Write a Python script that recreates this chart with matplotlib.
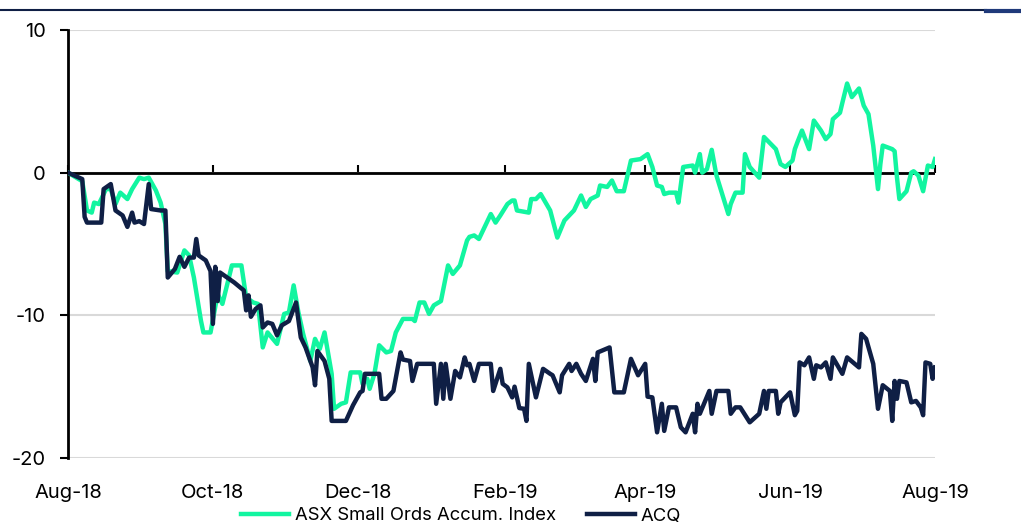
import matplotlib
matplotlib.use("Agg")
import matplotlib.pyplot as plt
import matplotlib.dates as mdates
import pandas as pd
from matplotlib.lines import Line2D

# ---------------- data ----------------
asx_dates = [
    '2018-08-01', '2018-08-07', '2018-08-09', '2018-08-11', '2018-08-12', '2018-08-14', '2018-08-17',
    '2018-08-19', '2018-08-21', '2018-08-23', '2018-08-26', '2018-08-28', '2018-08-31', '2018-09-02',
    '2018-09-04', '2018-09-07', '2018-09-09', '2018-09-11', '2018-09-12', '2018-09-16', '2018-09-19',
    '2018-09-21', '2018-09-23', '2018-09-26', '2018-09-27', '2018-09-30', '2018-10-03', '2018-10-05',
    '2018-10-09', '2018-10-13', '2018-10-15', '2018-10-18', '2018-10-20', '2018-10-22', '2018-10-24',
    '2018-10-28', '2018-10-31', '2018-11-02', '2018-11-04', '2018-11-06', '2018-11-08', '2018-11-11',
    '2018-11-13', '2018-11-15', '2018-11-17', '2018-11-20', '2018-11-21', '2018-11-24', '2018-11-26',
    '2018-11-28', '2018-12-02', '2018-12-03', '2018-12-05', '2018-12-06', '2018-12-08', '2018-12-10',
    '2018-12-13', '2018-12-15', '2018-12-17', '2018-12-20', '2018-12-24', '2018-12-25', '2018-12-27',
    '2018-12-29', '2018-12-31', '2019-01-02', '2019-01-05', '2019-01-08', '2019-01-10', '2019-01-13',
    '2019-01-16', '2019-01-17', '2019-01-19', '2019-01-21', '2019-01-24', '2019-01-26', '2019-01-28',
    '2019-01-30', '2019-02-02', '2019-02-04', '2019-02-05', '2019-02-06', '2019-02-11', '2019-02-12',
    '2019-02-14', '2019-02-16', '2019-02-20', '2019-02-23', '2019-02-26', '2019-03-02', '2019-03-05',
    '2019-03-07', '2019-03-09', '2019-03-12', '2019-03-13', '2019-03-16', '2019-03-18', '2019-03-20',
    '2019-03-23', '2019-03-26', '2019-03-30', '2019-04-02', '2019-04-04', '2019-04-06', '2019-04-08',
    '2019-04-09', '2019-04-11', '2019-04-14', '2019-04-15', '2019-04-17', '2019-04-21', '2019-04-22',
    '2019-04-24', '2019-04-25', '2019-04-27', '2019-04-29', '2019-05-01', '2019-05-06', '2019-05-07',
    '2019-05-09', '2019-05-12', '2019-05-13', '2019-05-15', '2019-05-19', '2019-05-21', '2019-05-26',
    '2019-05-28', '2019-05-30', '2019-06-02', '2019-06-03', '2019-06-04', '2019-06-06', '2019-06-09',
    '2019-06-11', '2019-06-14', '2019-06-16', '2019-06-18', '2019-06-19', '2019-06-22', '2019-06-23',
    '2019-06-25', '2019-06-27', '2019-06-30', '2019-07-02', '2019-07-04', '2019-07-06', '2019-07-08',
    '2019-07-09', '2019-07-10', '2019-07-14', '2019-07-15', '2019-07-16', '2019-07-17', '2019-07-20',
    '2019-07-22', '2019-07-23', '2019-07-25', '2019-07-27', '2019-07-29', '2019-07-31', '2019-08-01',
]
asx_values = [
    0.0, -0.6, -2.65, -2.8, -2.1, -2.2, -1.15,
    -1.15, -2.2, -1.4, -1.85, -1.15, -0.35, -0.45,
    -0.35, -1.25, -2.1, -3.6, -6.9, -7.0, -5.45,
    -5.8, -7.35, -10.4, -11.2, -11.2, -8.5, -9.2,
    -6.5, -6.5, -8.75, -9.1, -9.2, -12.25, -11.2,
    -12.0, -9.9, -9.8, -7.9, -9.8, -11.3, -13.2,
    -11.65, -12.35, -11.2, -14.1, -16.55, -16.2, -16.1,
    -14.0, -14.0, -14.8, -14.45, -15.15, -14.1, -12.1,
    -12.6, -12.5, -11.2, -10.25, -10.25, -10.4, -9.1,
    -9.1, -9.9, -9.3, -9.0, -6.5, -7.1, -6.5,
    -4.75, -4.5, -4.4, -4.65, -3.6, -2.9, -3.5,
    -3.0, -2.2, -1.95, -1.95, -2.65, -2.8, -1.85,
    -1.85, -1.5, -2.65, -4.55, -3.35, -2.65, -1.6,
    -2.4, -1.85, -1.6, -0.9, -1.0, -0.55, -1.3,
    -1.3, 0.85, 0.95, 1.3, 0.4, -0.9, -1.0,
    -1.5, -1.4, -1.4, -2.1, 0.4, 0.5, 0.0,
    1.3, 0.0, 0.25, 1.6, -0.2, -2.9, -2.2,
    -1.4, -1.4, 1.3, 0.4, -0.35, 2.5, 1.65,
    0.6, 0.4, 0.85, 1.65, 2.1, 2.95, 1.65,
    3.65, 2.95, 2.35, 2.7, 3.75, 4.2, 4.9,
    6.25, 5.3, 5.9, 4.7, 4.1, 1.9, -1.15,
    0.6, 1.9, 1.65, 1.5, -0.35, -1.85, -1.3,
    0.0, 0.1, -0.2, -1.3, 0.5, 0.4, 0.95,
]

acq_dates = [
    '2018-08-01', '2018-08-07', '2018-08-08', '2018-08-09', '2018-08-15', '2018-08-16', '2018-08-19',
    '2018-08-21', '2018-08-24', '2018-08-26', '2018-08-28', '2018-08-29', '2018-08-31', '2018-09-02',
    '2018-09-04', '2018-09-05', '2018-09-09', '2018-09-11', '2018-09-12', '2018-09-15', '2018-09-17',
    '2018-09-19', '2018-09-21', '2018-09-23', '2018-09-24', '2018-09-25', '2018-09-28', '2018-09-30',
    '2018-10-01', '2018-10-02', '2018-10-03', '2018-10-04', '2018-10-07', '2018-10-10', '2018-10-14',
    '2018-10-15', '2018-10-16', '2018-10-17', '2018-10-19', '2018-10-21', '2018-10-22', '2018-10-24',
    '2018-10-26', '2018-10-28', '2018-10-30', '2018-11-02', '2018-11-05', '2018-11-07', '2018-11-09',
    '2018-11-12', '2018-11-13', '2018-11-14', '2018-11-17', '2018-11-19', '2018-11-20', '2018-11-26',
    '2018-11-29', '2018-12-02', '2018-12-03', '2018-12-04', '2018-12-10', '2018-12-11', '2018-12-13',
    '2018-12-16', '2018-12-19', '2018-12-20', '2018-12-23', '2018-12-24', '2018-12-26', '2019-01-02',
    '2019-01-03', '2019-01-05', '2019-01-06', '2019-01-07', '2019-01-09', '2019-01-11', '2019-01-13',
    '2019-01-15', '2019-01-16', '2019-01-17', '2019-01-19', '2019-01-21', '2019-01-26', '2019-01-27',
    '2019-01-30', '2019-01-31', '2019-02-02', '2019-02-04', '2019-02-05', '2019-02-07', '2019-02-09',
    '2019-02-10', '2019-02-11', '2019-02-14', '2019-02-17', '2019-02-20', '2019-02-21', '2019-02-24',
    '2019-02-25', '2019-02-28', '2019-03-01', '2019-03-03', '2019-03-05', '2019-03-07', '2019-03-10',
    '2019-03-11', '2019-03-12', '2019-03-17', '2019-03-19', '2019-03-23', '2019-03-26', '2019-03-29',
    '2019-04-01', '2019-04-02', '2019-04-04', '2019-04-06', '2019-04-08', '2019-04-09', '2019-04-11',
    '2019-04-14', '2019-04-16', '2019-04-18', '2019-04-21', '2019-04-22', '2019-04-23', '2019-04-24',
    '2019-04-28', '2019-04-29', '2019-05-01', '2019-05-06', '2019-05-07', '2019-05-09', '2019-05-11',
    '2019-05-15', '2019-05-19', '2019-05-21', '2019-05-22', '2019-05-23', '2019-05-26', '2019-05-27',
    '2019-05-28', '2019-06-01', '2019-06-03', '2019-06-04', '2019-06-05', '2019-06-07', '2019-06-09',
    '2019-06-11', '2019-06-12', '2019-06-14', '2019-06-16', '2019-06-18', '2019-06-19', '2019-06-23',
    '2019-06-25', '2019-06-30', '2019-07-01', '2019-07-03', '2019-07-06', '2019-07-08', '2019-07-10',
    '2019-07-13', '2019-07-14', '2019-07-15', '2019-07-16', '2019-07-17', '2019-07-20', '2019-07-22',
    '2019-07-24', '2019-07-26', '2019-07-27', '2019-07-28', '2019-07-30', '2019-07-31', '2019-08-01',
]
acq_values = [
    0.0, -0.45, -3.1, -3.5, -3.5, -1.15, -0.8,
    -2.65, -3.0, -3.8, -2.8, -3.5, -3.4, -3.6,
    -0.8, -2.55, -2.65, -2.65, -7.35, -6.75, -5.9,
    -6.6, -5.95, -5.95, -4.65, -5.8, -6.15, -6.9,
    -10.6, -6.6, -9.0, -7.0, -7.35, -7.7, -8.25,
    -9.65, -8.6, -10.1, -9.55, -9.3, -10.85, -10.5,
    -10.6, -11.4, -10.7, -10.4, -9.1, -11.55, -12.25,
    -13.65, -14.9, -12.5, -13.2, -14.45, -17.4, -17.4,
    -16.3, -15.4, -15.3, -14.1, -14.1, -15.85, -15.85,
    -15.3, -12.6, -13.1, -13.2, -14.6, -13.4, -13.4,
    -16.2, -13.4, -15.85, -13.4, -15.85, -13.9, -14.35,
    -12.95, -13.5, -13.4, -14.6, -13.4, -13.4, -15.3,
    -13.75, -14.8, -15.05, -15.75, -15.0, -16.5, -16.55,
    -17.4, -13.4, -15.75, -13.75, -14.1, -14.2, -15.4,
    -14.2, -13.4, -13.9, -13.4, -14.1, -14.6, -13.05,
    -14.6, -12.6, -12.25, -15.4, -15.4, -13.05, -14.2,
    -13.4, -15.7, -15.75, -18.2, -16.2, -18.1, -16.45,
    -16.45, -17.85, -18.2, -16.9, -18.2, -16.2, -16.9,
    -15.3, -16.9, -15.3, -15.3, -16.9, -16.45, -16.45,
    -17.5, -16.9, -15.3, -16.55, -15.3, -15.3, -16.9,
    -16.1, -15.4, -17.0, -16.7, -13.3, -13.5, -12.95,
    -14.45, -13.5, -13.65, -13.3, -14.45, -12.95, -14.1,
    -12.95, -13.65, -11.3, -11.65, -13.4, -16.55, -14.9,
    -15.3, -17.4, -14.6, -15.85, -14.6, -14.7, -16.1,
    -16.0, -16.45, -17.0, -13.3, -13.4, -14.45, -13.65,
]

series_labels = ['ASX Small Ords Accum. Index', 'ACQ']
y_ticks = [-20, -10, 0, 10]
x_tick_dates = ['2018-08-01', '2018-10-01', '2018-12-01', '2019-02-01',
                '2019-04-01', '2019-06-01', '2019-08-01']

# ---------------- style ----------------
GREEN = '#12F5A0'
NAVY = '#0F1F45'
GRID = '#D9D9D9'
FONT = 'Inter'

plt.rcParams['font.family'] = [FONT, 'DejaVu Sans']
plt.rcParams['axes.unicode_minus'] = False

W, H = 1021, 529
fig = plt.figure(figsize=(W / 100, H / 100), dpi=100)
ax = fig.add_axes([68 / W, 71 / H, 867 / W, 428 / H])

x_asx = pd.to_datetime(asx_dates)
x_acq = pd.to_datetime(acq_dates)
x_ticks = pd.to_datetime(x_tick_dates)

l1, = ax.plot(x_asx, asx_values, color=GREEN, lw=3.2, solid_joinstyle='round', zorder=3)
l2, = ax.plot(x_acq, acq_values, color=NAVY, lw=3.2, solid_joinstyle='round', zorder=4)

ax.set_ylim(-20, 10)
ax.set_xlim(x_ticks[0], x_ticks[-1])
ax.set_yticks(y_ticks)
ax.set_yticklabels([str(v) for v in y_ticks])
ax.yaxis.grid(True, color=GRID, lw=1.5, zorder=0)
ax.set_axisbelow(True)

ax.axhline(0, color='black', lw=2.0, zorder=2)

for s in ['top', 'right', 'bottom']:
    ax.spines[s].set_visible(False)
ax.spines['left'].set_linewidth(2.0)
ax.spines['left'].set_color('black')

ax.tick_params(axis='y', length=6, width=1.5, direction='out', pad=10,
               labelsize=14.5, colors='black')

# x labels at the bottom, no tick marks there
ax.set_xticks(x_ticks)
ax.xaxis.set_major_formatter(mdates.DateFormatter('%b-%y'))
ax.tick_params(axis='x', length=0, pad=19, labelsize=14.5)

# tick marks on the zero line
sec = ax.secondary_xaxis(2 / 3)
sec.set_xticks(mdates.date2num(x_ticks))
sec.tick_params(axis='x', length=6, width=1.5, direction='out', labelbottom=False,
                labeltop=False, colors='black')
sec.spines['bottom'].set_visible(False)
sec.spines['top'].set_visible(False)

# legend
fig.legend([l1, l2], series_labels, loc='center', bbox_to_anchor=(461 / W, 13 / H),
           ncol=2, frameon=False, fontsize=13.3, handlelength=2.6, handletextpad=0.3,
           columnspacing=1.7, borderpad=0)

# top rule
fig.add_artist(Line2D([0, 986 / W], [1 - 10 / H] * 2, transform=fig.transFigure,
                      color=NAVY, lw=1.5))
fig.add_artist(Line2D([986 / W, 1], [1 - 11 / H] * 2, transform=fig.transFigure,
                      color='#1F3A7A', lw=3))

fig.savefig('out.png', dpi=100)
